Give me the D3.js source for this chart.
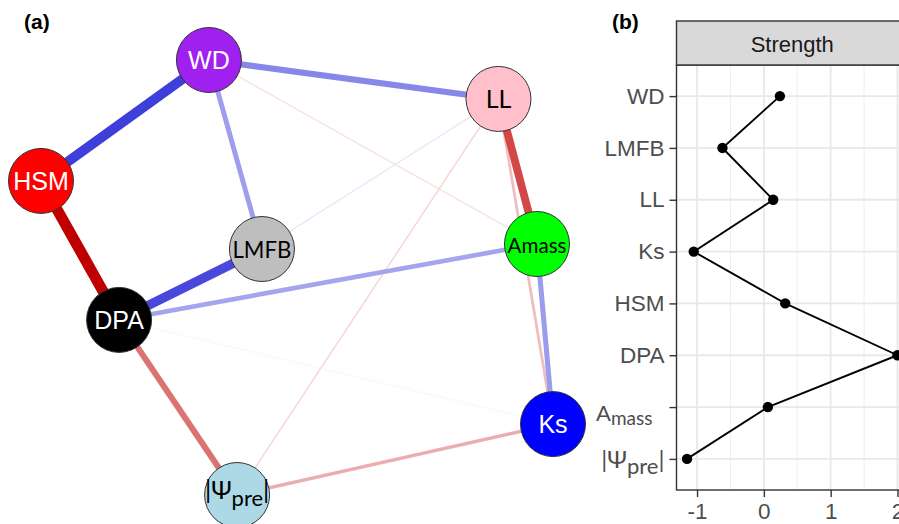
<!DOCTYPE html>
<html>
<head>
<meta charset="utf-8">
<script src="https://cdn.jsdelivr.net/npm/d3@7"></script>
<style>
	body { margin: 0; background: #fff; }
	svg { display: block; }
</style>
</head>
<body>
<svg id="chart" width="899" height="524"></svg>
<script>
// =============================
// Trait network (a) and node strength (b)
// =============================

// Nodes, with their layout coordinates in qgraph units (-1..1)
const nodes = ["WD", "LL", "HSM", "LMFB", "Amass", "DPA", "Ks", "Psi"];
const nodeX = [-0.344, 0.787, -1, -0.137, 0.9375, -0.695, 1, -0.234];
const nodeY = [1, 0.821, 0.444, 0.131, 0.154, -0.195, -0.674, -1];
const nodeFill = ["#a020f0", "#ffc0cb", "#ff0000", "#bebebe", "#00ff00", "#000000", "#0000ff", "#add8e6"];

// Edges: from, to, partial correlation (sign gives colour)
const edgeFrom = ["HSM", "WD", "DPA", "LL", "WD", "DPA", "WD", "DPA", "Amass", "Psi", "LL", "LL", "WD", "LL", "DPA"];
const edgeTo = ["DPA", "HSM", "LMFB", "Amass", "LL", "Psi", "LMFB", "Amass", "Ks", "Ks", "Ks", "Psi", "Amass", "LMFB", "Ks"];
const edgeWeight = [-1.0, 0.9, 0.85, -0.72, 0.56, -0.55, 0.45, 0.42, 0.46, -0.32, -0.25, -0.15, -0.12, 0.12, 0.06];

// Strength centrality (panel b)
const strengthNodes = ["WD", "LMFB", "LL", "Ks", "HSM", "DPA", "Amass", "Psi"];
const strengthValues = [0.24, -0.62, 0.14, -1.05, 0.32, 2.0, 0.06, -1.15];
const xTicks = [-1, 0, 1, 2];

const svg = d3.select("#chart");

// ---------- panel (a) ----------
const netX = d3.scaleLinear().domain([-1, 1]).range([41, 553]);
const netY = d3.scaleLinear().domain([-1, 1]).range([495, 60]);
const nodeR = 32.5;

const widthScale = d3.scaleLinear().domain([0, 1]).range([0, 11]);
const posColor = d3.interpolateRgb("#ffffff", "rgb(40,40,215)");
const negColor = d3.interpolateRgb("#ffffff", "#c00000");

const pos = {};
nodes.forEach((n, i) => { pos[n] = [netX(nodeX[i]), netY(nodeY[i])]; });

const edges = edgeFrom.map((f, i) => ({from: f, to: edgeTo[i], w: edgeWeight[i]}))
	.sort((a, b) => Math.abs(a.w) - Math.abs(b.w));

svg.append("g").attr("class", "edges")
	.selectAll("line")
	.data(edges)
	.enter()
	.append("line")
	.attr("x1", d => pos[d.from][0])
	.attr("y1", d => pos[d.from][1])
	.attr("x2", d => pos[d.to][0])
	.attr("y2", d => pos[d.to][1])
	.attr("stroke", d => d.w > 0 ? posColor(Math.abs(d.w)) : negColor(Math.abs(d.w)))
	.attr("stroke-width", d => Math.max(0.8, widthScale(Math.abs(d.w))));

const nodeG = svg.append("g").attr("class", "nodes")
	.selectAll("g")
	.data(nodes)
	.enter()
	.append("g")
	.attr("transform", d => `translate(${pos[d][0]},${pos[d][1]})`);

nodeG.append("circle")
	.attr("r", nodeR)
	.attr("fill", (d, i) => nodeFill[i])
	.attr("stroke", "#333")
	.attr("stroke-width", 1);

const whiteLabels = ["WD", "HSM", "DPA", "Ks"];

const labels = nodeG.append("text")
	.attr("text-anchor", "middle")
	.attr("y", 9)
	.style("font-family", d => whiteLabels.includes(d) ? "'Liberation Sans', Arial, sans-serif" : "Lato, 'Open Sans', sans-serif")
	.style("font-size", "25px")
	.attr("fill", d => whiteLabels.includes(d) ? "#fff" : "#000");

labels.each(function(d) {
	const t = d3.select(this);
	if (d === "Psi") {
		t.attr("y", 4);
		t.append("tspan").text("|\u03A8").style("font-size", "25px");
		t.append("tspan").text("pre").attr("dy", 7).style("font-size", "22px");
		t.append("tspan").text("|").attr("dy", -7).style("font-size", "25px");
	} else {
		t.text(d);
	}
	// shrink long labels so they fit in the node, like qgraph's label.scale
	const w = this.getComputedTextLength();
	if (w > 59 && d !== "Psi") {
		t.style("font-size", (25 * 59 / w) + "px");
	}
});

// Panel letters
svg.append("text").text("(a)")
	.attr("x", 24).attr("y", 29)
	.style("font-family", "'Liberation Sans', Arial, sans-serif")
	.style("font-size", "21px").style("font-weight", "bold");

svg.append("text").text("(b)")
	.attr("x", 612).attr("y", 29)
	.style("font-family", "'Liberation Sans', Arial, sans-serif")
	.style("font-size", "21px").style("font-weight", "bold");

// ---------- panel (b) ----------
const panel = {left: 676.5, right: 908, top: 65, bottom: 490};
const stripTop = 21;

const xMin = d3.min(strengthValues), xMax = d3.max(strengthValues);
const xPad = (xMax - xMin) * 0.05;
const x = d3.scaleLinear().domain([xMin - xPad, xMax + xPad]).range([panel.left, panel.right]);
const y = d3.scalePoint().domain(strengthNodes).range([panel.top, panel.bottom]).padding(0.6);

const pb = svg.append("g").attr("class", "strength");

// minor + major gridlines
const minorTicks = [-0.5, 0.5, 1.5];
pb.selectAll(".minor")
	.data(minorTicks)
	.enter()
	.append("line")
	.attr("x1", d => x(d)).attr("x2", d => x(d))
	.attr("y1", panel.top).attr("y2", panel.bottom)
	.attr("stroke", "#ebebeb").attr("stroke-width", 0.9);

pb.selectAll(".majorx")
	.data(xTicks)
	.enter()
	.append("line")
	.attr("x1", d => x(d)).attr("x2", d => x(d))
	.attr("y1", panel.top).attr("y2", panel.bottom)
	.attr("stroke", "#e8e8e8").attr("stroke-width", 1.8);

pb.selectAll(".majory")
	.data(strengthNodes)
	.enter()
	.append("line")
	.attr("x1", panel.left).attr("x2", panel.right)
	.attr("y1", d => y(d)).attr("y2", d => y(d))
	.attr("stroke", "#e8e8e8").attr("stroke-width", 1.8);

// Line and points
const line = d3.line()
	.x((d, i) => x(strengthValues[i]))
	.y(d => y(d));

pb.append("path")
	.datum(strengthNodes)
	.attr("d", line)
	.attr("fill", "none")
	.attr("stroke", "#000")
	.attr("stroke-width", 1.9);

pb.selectAll("circle")
	.data(strengthNodes)
	.enter()
	.append("circle")
	.attr("cx", (d, i) => x(strengthValues[i]))
	.attr("cy", d => y(d))
	.attr("r", 5.2)
	.attr("fill", "#000");

// Panel border
pb.append("rect")
	.attr("x", panel.left).attr("y", panel.top)
	.attr("width", panel.right - panel.left).attr("height", panel.bottom - panel.top)
	.attr("fill", "none").attr("stroke", "#333").attr("stroke-width", 1.4);

// Strip
pb.append("rect")
	.attr("x", panel.left).attr("y", stripTop)
	.attr("width", panel.right - panel.left).attr("height", panel.top - stripTop)
	.attr("fill", "#d9d9d9").attr("stroke", "#333").attr("stroke-width", 1.4);

pb.append("text").text("Strength")
	.attr("x", (panel.left + panel.right) / 2)
	.attr("y", 52)
	.attr("text-anchor", "middle")
	.attr("fill", "#1a1a1a")
	.style("font-family", "'Liberation Sans', Arial, sans-serif")
	.style("font-size", "22px");

// Axes
const axisFont = "'Liberation Sans', Arial, sans-serif";

const yAxis = pb.append("g")
	.attr("transform", `translate(${panel.left},0)`)
	.call(d3.axisLeft(y).tickSize(7).tickPadding(5).tickFormat(d => d));
yAxis.select(".domain").remove();
yAxis.selectAll(".tick line").attr("stroke", "#333").attr("stroke-width", 1.4);
yAxis.selectAll(".tick text")
	.attr("fill", "#4d4d4d")
	.style("font-family", axisFont)
	.style("font-size", "22.5px");

// math-style labels for Amass and Psi
yAxis.selectAll(".tick text").each(function(d) {
	const t = d3.select(this);
	if (d === "Amass") {
		t.text(null).attr("x", -24).attr("dy", "0.6em")
			.style("font-family", "Lato, sans-serif");
		t.append("tspan").text("A").style("font-size", "22px");
		t.append("tspan").text("mass").attr("dy", 4).style("font-size", "19px");
	} else if (d === "Psi") {
		t.text(null).attr("dy", "0.4em")
			.style("font-family", "Lato, 'DejaVu Sans', sans-serif");
		t.append("tspan").text("|\u03A8").style("font-size", "24px");
		t.append("tspan").text("pre").attr("dy", 6).style("font-size", "22px");
		t.append("tspan").text("|").attr("dy", -6).style("font-size", "24px");
	}
});

const xAxis = pb.append("g")
	.attr("transform", `translate(0,${panel.bottom})`)
	.call(d3.axisBottom(x).tickValues(xTicks).tickSize(7).tickPadding(6).tickFormat(d => String(d)));
xAxis.select(".domain").remove();
xAxis.selectAll(".tick line").attr("stroke", "#333").attr("stroke-width", 1.4);
xAxis.selectAll(".tick text")
	.attr("fill", "#4d4d4d")
	.style("font-family", axisFont)
	.style("font-size", "22.5px");
</script>
</body>
</html>
